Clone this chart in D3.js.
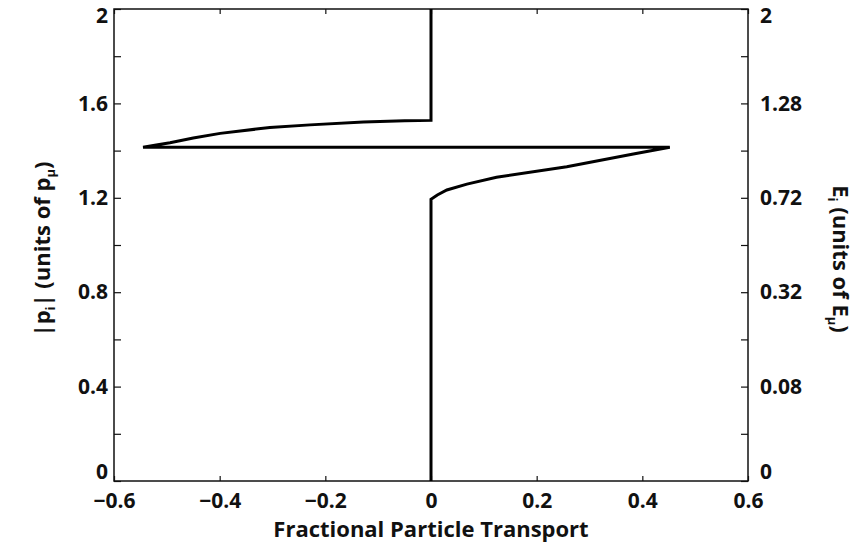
<!DOCTYPE html>
<html lang="en">
<head>
    <meta charset="UTF-8">
    <title>Fractional Particle Transport</title>
    <script src="https://d3js.org/d3.v7.min.js"></script>
    <style>
        body {
            margin: 0;
            background-color: white;
        }

        text {
            font-family: "Open Sans", Arial, sans-serif;
            font-weight: 700;
            fill: #111;
        }

        .tick-label {
            font-size: 21px;
        }

        .axis-title {
            font-size: 22px;
        }

        .frame {
            fill: none;
            stroke: #111;
            stroke-width: 1.5;
        }

        .tick-mark {
            stroke: #111;
            stroke-width: 1.2;
        }

        .curve {
            fill: none;
            stroke: #000;
            stroke-width: 3;
            stroke-linejoin: miter;
        }
    </style>
</head>
<body>
    <svg id="chart" width="866" height="551"></svg>

    <script>
        // curve: transport (x) against |p_i| (y), in drawing order
        const curveX = [0, 0, 0.012, 0.030, 0.068, 0.124, 0.257, 0.383, 0.452, -0.545, -0.520, -0.494, -0.450, -0.399, -0.305, -0.229, -0.128, -0.050, 0, 0];
        const curveY = [0, 1.194, 1.212, 1.233, 1.258, 1.287, 1.332, 1.386, 1.414, 1.414, 1.424, 1.433, 1.453, 1.473, 1.498, 1.509, 1.521, 1.526, 1.528, 2];

        const xTicks = [-0.6, -0.4, -0.2, 0, 0.2, 0.4, 0.6];
        const yTicks = [0, 0.2, 0.4, 0.6, 0.8, 1.0, 1.2, 1.4, 1.6, 1.8, 2.0];
        const yLabels = [0, 0.4, 0.8, 1.2, 1.6, 2];
        const rightLabels = ["0", "0.08", "0.32", "0.72", "1.28", "2"];

        const margin = { left: 114, right: 118, top: 9, bottom: 70 };
        const width = 866, height = 551;

        const svg = d3.select("#chart");

        const x = d3.scaleLinear()
            .domain([-0.6, 0.6])
            .range([margin.left, width - margin.right]);

        const y = d3.scaleLinear()
            .domain([0, 2])
            .range([height - margin.bottom, margin.top]);

        const fmt = d => d === 0 ? "0" : d3.format(".1f")(d).replace("-", "\u2212");

        // nudge end labels the way the original plot does (bottom one up, top one down)
        const nudge = d => d === 0 ? -9 : (d === 2 ? 7 : 0);

        // bottom axis: ticks point inward
        svg.append("g")
            .attr("transform", `translate(0,${y(0)})`)
            .call(d3.axisBottom(x).tickValues(xTicks).tickSizeInner(-5).tickSizeOuter(0).tickPadding(10).tickFormat(fmt))
            .call(g => g.select(".domain").remove())
            .call(g => g.selectAll("line").attr("class", "tick-mark"))
            .call(g => g.selectAll("text").attr("class", "tick-label").attr("dy", "0.8em"));

        // top ticks
        svg.append("g")
            .attr("transform", `translate(0,${y(2)})`)
            .call(d3.axisTop(x).tickValues(xTicks).tickSizeInner(-5).tickSizeOuter(0).tickFormat(""))
            .call(g => g.select(".domain").remove())
            .call(g => g.selectAll("line").attr("class", "tick-mark"));

        // left axis
        svg.append("g")
            .attr("transform", `translate(${x(-0.6)},0)`)
            .call(d3.axisLeft(y).tickValues(yTicks).tickSizeInner(-7).tickSizeOuter(0).tickPadding(6)
                .tickFormat(d => yLabels.some(v => Math.abs(v - d) < 1e-9) ? d3.format("~g")(d) : ""))
            .call(g => g.select(".domain").remove())
            .call(g => g.selectAll("line").attr("class", "tick-mark"))
            .call(g => g.selectAll("text").attr("class", "tick-label").attr("y", nudge));

        // right axis, labelled in energy units
        svg.append("g")
            .attr("transform", `translate(${x(0.6)},0)`)
            .call(d3.axisRight(y).tickValues(yTicks).tickSizeInner(-7).tickSizeOuter(0).tickPadding(12)
                .tickFormat(d => {
                    const i = yLabels.findIndex(v => Math.abs(v - d) < 1e-9);
                    return i >= 0 ? rightLabels[i] : "";
                }))
            .call(g => g.select(".domain").remove())
            .call(g => g.selectAll("line").attr("class", "tick-mark"))
            .call(g => g.selectAll("text").attr("class", "tick-label").attr("y", nudge));

        // frame
        svg.append("rect")
            .attr("class", "frame")
            .attr("x", x(-0.6))
            .attr("y", y(2))
            .attr("width", x(0.6) - x(-0.6))
            .attr("height", y(0) - y(2));

        // curve
        const pts = curveX.map((v, i) => [v, curveY[i]]);
        svg.append("path")
            .datum(pts)
            .attr("class", "curve")
            .attr("d", d3.line().x(d => x(d[0])).y(d => y(d[1])));

        // axis titles
        svg.append("text")
            .attr("class", "axis-title")
            .attr("x", x(0))
            .attr("y", 537)
            .attr("font-size", 23)
            .attr("text-anchor", "middle")
            .text("Fractional Particle Transport");

        const leftTitle = svg.append("text")
            .attr("class", "axis-title")
            .attr("transform", "translate(50,249) rotate(-90)")
            .attr("text-anchor", "middle");
        leftTitle.append("tspan").text("|p");
        leftTitle.append("tspan").attr("dy", 5).attr("font-size", 13).text("i");
        leftTitle.append("tspan").attr("dy", -5).text("| (units of p");
        leftTitle.append("tspan").attr("dy", 5).attr("font-size", 13).text("\u03bc");
        leftTitle.append("tspan").attr("dy", -5).text(")");

        const rightTitle = svg.append("text")
            .attr("class", "axis-title")
            .attr("transform", "translate(833,259) rotate(90)")
            .attr("text-anchor", "middle");
        rightTitle.append("tspan").text("E");
        rightTitle.append("tspan").attr("dy", 5).attr("font-size", 13).text("i");
        rightTitle.append("tspan").attr("dy", -5).text(" (units of E");
        rightTitle.append("tspan").attr("dy", 5).attr("font-size", 13).text("\u03bc");
        rightTitle.append("tspan").attr("dy", -5).text(")");
    </script>
</body>
</html>
